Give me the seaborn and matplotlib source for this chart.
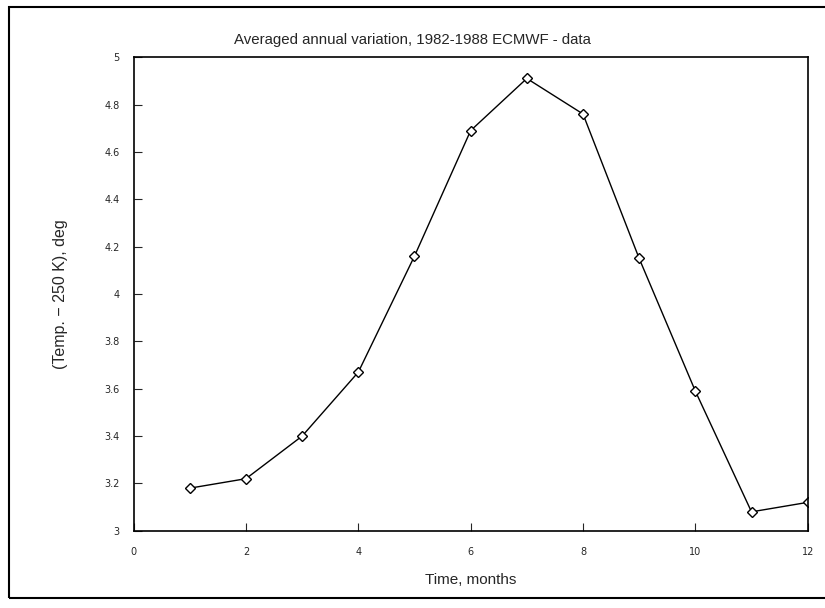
import numpy as np
import pandas as pd
import matplotlib
matplotlib.use("Agg")
import matplotlib.pyplot as plt
import seaborn as sns
from matplotlib.patches import Rectangle

# данные
months = [1, 2, 3, 4, 5, 6, 7, 8, 9, 10, 11, 12]
temp_anom = [3.18, 3.22, 3.40, 3.67, 4.16, 4.69, 4.91, 4.76, 4.15, 3.59, 3.08, 3.12]
x_ticks = [0, 2, 4, 6, 8, 10, 12]
y_ticks = [3.0, 3.2, 3.4, 3.6, 3.8, 4.0, 4.2, 4.4, 4.6, 4.8, 5.0]
y_tick_labels = ["3", "3.2", "3.4", "3.6", "3.8", "4", "4.2", "4.4", "4.6", "4.8", "5"]

df = pd.DataFrame({"month": months, "temp": temp_anom})

sns.set_style("ticks")
plt.rcParams["font.family"] = ["Liberation Sans", "DejaVu Sans"]

fig = plt.figure(figsize=(8.25, 6.08), dpi=100)
ax = fig.add_axes([0.162, 0.127, 0.817, 0.779])

sns.lineplot(data=df, x="month", y="temp", ax=ax, color="black", linewidth=1.0,
             marker="D", markersize=5, markerfacecolor="white",
             markeredgecolor="black", markeredgewidth=1.0)

ax.set_xlim(0, 12)
ax.set_ylim(3, 5)
ax.set_xticks(x_ticks)
ax.set_xticklabels([str(t) for t in x_ticks], fontsize=7, family="DejaVu Sans")
ax.set_yticks(y_ticks)
ax.set_yticklabels(y_tick_labels, fontsize=7, family="DejaVu Sans")
ax.tick_params(direction="in", length=6, width=0.8, pad=12)
ax.tick_params(axis="y", pad=10)
for s in ax.spines.values():
    s.set_linewidth(1.2)
    s.set_color("black")

# заголовок по центру рисунка, а не осей
fig.text(0.5, 1 - 40 / 608, "Averaged annual variation, 1982-1988 ECMWF - data",
         fontsize=10.8, ha="center", va="center")
ax.set_xlabel("Time, months", fontsize=11, labelpad=11)
ax.set_ylabel("(Temp. \u2212 250 K), deg", fontsize=11.5, labelpad=26)

# рамка вокруг всего рисунка
fig.patches.append(Rectangle((0.011, 0.017), 0.995, 0.972, transform=fig.transFigure,
                             fill=False, edgecolor="black", linewidth=1.5))

fig.savefig("out.png", dpi=100)
